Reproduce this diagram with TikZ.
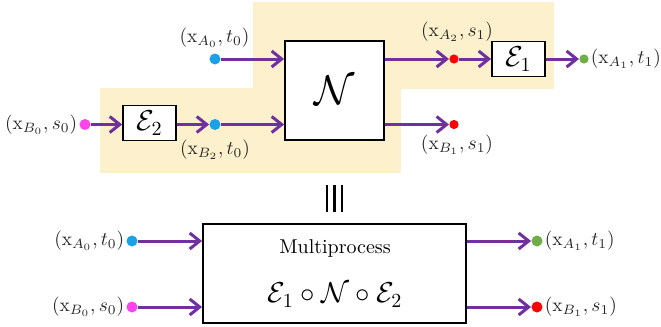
\documentclass[tikz,border=0pt]{standalone}
\usetikzlibrary{arrows.meta}
\definecolor{pur}{HTML}{7030A0}
\definecolor{bgy}{HTML}{FDF0CC}
\definecolor{cblue}{HTML}{1BA1E9}
\definecolor{cmag}{HTML}{FF44EE}
\definecolor{cred}{HTML}{FF0000}
\definecolor{cgreen}{HTML}{70AD47}
\begin{document}
\begin{tikzpicture}[x=0.5pt,y=-0.5pt,
  box/.style={draw=black,line width=0.9pt,fill=white,inner sep=0pt},
  arr/.style={draw=pur,line width=1.5pt,-{Straight Barb[length=5pt,width=8pt]}},
  dotnode/.style={circle,inner sep=0pt,minimum size=5.5pt},
  smalldot/.style={circle,inner sep=0pt,minimum size=4.6pt},
  lab/.style={inner sep=0.8pt,text=black!85,scale=0.97}]
\useasboundingbox (0,0) rectangle (661,327);
\fill[bgy] (253,2) -- (554,2) -- (554,89) -- (401,89) -- (401,173) -- (100,173) -- (100,88) -- (253,88) -- cycle;
% top part
\node[box,minimum width=49.5pt,minimum height=49.5pt] (N) at (334.5,90.5) {\huge$\mathcal{N}$};
\node[box,minimum width=26.5pt,minimum height=17.5pt] (E2) at (149.5,123) {\Large$\mathcal{E}_2$};
\node[box,minimum width=26.5pt,minimum height=17.5pt] (E1) at (518.5,59) {\Large$\mathcal{E}_1$};
\node[dotnode,fill=cblue] (a0) at (215,59) {};
\node[dotnode,fill=cmag] (b0) at (85,124.5) {};
\node[dotnode,fill=cblue] (b2) at (215,124.5) {};
\node[smalldot,fill=cred] (a2) at (454,59) {};
\node[smalldot,fill=cgreen] (a1) at (584,59) {};
\node[smalldot,fill=cred] (b1) at (454,124.5) {};
\draw[arr] (a0) -- (N.west |- a0);
\draw[arr] (b0) -- (E2.west |- b0);
\draw[arr] (E2.east |- b2) -- (b2);
\draw[arr] (b2) -- (N.west |- b2);
\draw[arr] (N.east |- a2) -- (a2);
\draw[arr] (a2) -- (E1.west |- a2);
\draw[arr] (E1.east |- a1) -- (a1);
\draw[arr] (N.east |- b1) -- (b1);
\node[lab] (la0) at (214.5,38) {$(\mathrm{x}_{A_0},t_0)$};
\node[lab,anchor=east] (lb0) at (b0.west) {$(\mathrm{x}_{B_0},s_0)$};
\node[lab] (lb2) at (215,150) {$(\mathrm{x}_{B_2},t_0)$};
\node[lab] (la2) at (457,32) {$(\mathrm{x}_{A_2},s_1)$};
\node[lab,anchor=west] (la1) at (a1.east) {$(\mathrm{x}_{A_1},t_1)$};
\node[lab] (lb1) at (457,145) {$(\mathrm{x}_{B_1},s_1)$};
% equivalence bars
\draw[line width=1.1pt] (327,185) -- (327,212);
\draw[line width=1.1pt] (334.5,185) -- (334.5,212);
\draw[line width=1.1pt] (342,185) -- (342,212);
% bottom part
\node[box,minimum width=131.5pt,minimum height=49.5pt] (M) at (334.5,273.5) {};
\node (mt) at (335,248) {Multiprocess};
\node (me) at (335,295) {\Large$\mathcal{E}_1\circ\mathcal{N}\circ\mathcal{E}_2$};
\node[dotnode,fill=cblue] (c0) at (132,241) {};
\node[dotnode,fill=cmag] (d0) at (132,307) {};
\node[dotnode,fill=cgreen] (c1) at (537,241) {};
\node[dotnode,fill=cred] (d1) at (537,307) {};
\draw[arr] (c0) -- (M.west |- c0);
\draw[arr] (d0) -- (M.west |- d0);
\draw[arr] (M.east |- c1) -- (c1);
\draw[arr] (M.east |- d1) -- (d1);
\node[lab,anchor=east] (lc0) at (c0.west) {$(\mathrm{x}_{A_0},t_0)$};
\node[lab,anchor=east] (ld0) at (d0.west) {$(\mathrm{x}_{B_0},s_0)$};
\node[lab,anchor=west] (lc1) at (c1.east) {$(\mathrm{x}_{A_1},t_1)$};
\node[lab,anchor=west] (ld1) at (d1.east) {$(\mathrm{x}_{B_1},s_1)$};
\end{tikzpicture}
\end{document}
